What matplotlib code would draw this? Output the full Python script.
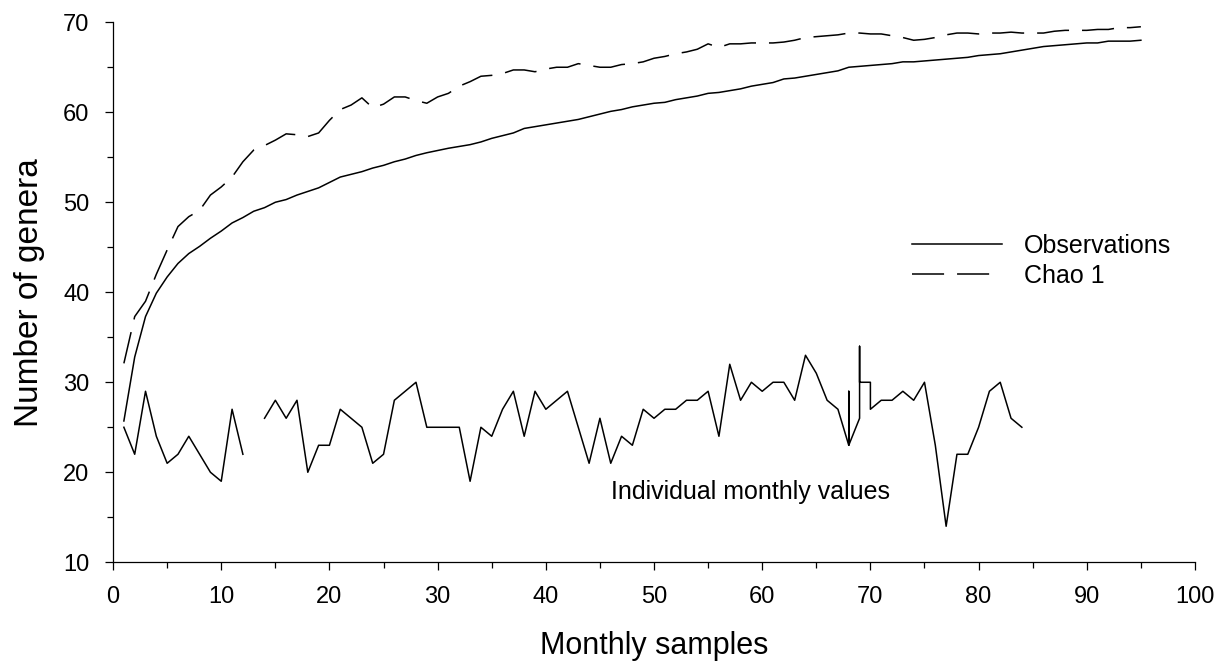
import numpy as np
import matplotlib
matplotlib.use("Agg")
import matplotlib.pyplot as plt
from matplotlib.ticker import MultipleLocator

plt.rcParams['font.family'] = ['Liberation Sans', 'DejaVu Sans']

# Cumulative curves (months 1..95)
cum_months = list(range(1, 96))
observations = [25.7, 32.8, 37.3, 39.9, 41.7, 43.2, 44.3, 45.1, 46.0, 46.8,
                47.7, 48.3, 49.0, 49.4, 50.0, 50.3, 50.8, 51.2, 51.6, 52.2,
                52.8, 53.1, 53.4, 53.8, 54.1, 54.5, 54.8, 55.2, 55.5, 55.75,
                56.0, 56.2, 56.4, 56.7, 57.1, 57.4, 57.7, 58.2, 58.4, 58.6,
                58.8, 59.0, 59.2, 59.5, 59.8, 60.1, 60.3, 60.6, 60.8, 61.0,
                61.1, 61.4, 61.6, 61.8, 62.1, 62.2, 62.4, 62.6, 62.9, 63.1,
                63.3, 63.7, 63.8, 64.0, 64.2, 64.4, 64.6, 65.0, 65.1, 65.2,
                65.3, 65.4, 65.6, 65.6, 65.7, 65.8, 65.9, 66.0, 66.1, 66.3,
                66.4, 66.5, 66.7, 66.9, 67.1, 67.3, 67.4, 67.5, 67.6, 67.7,
                67.7, 67.9, 67.9, 67.9, 68.0]
chao1 = [32.1, 37.3, 39.0, 42.0, 44.7, 47.3, 48.4, 49.1, 50.8, 51.7,
         52.8, 54.5, 55.8, 56.3, 56.9, 57.6, 57.5, 57.3, 57.7, 59.1,
         60.3, 60.8, 61.6, 60.5, 60.9, 61.7, 61.7, 61.3, 61.0, 61.7,
         62.1, 62.9, 63.4, 64.0, 64.1, 64.3, 64.7, 64.7, 64.5, 64.8,
         65.0, 65.0, 65.4, 65.2, 65.0, 65.0, 65.3, 65.4, 65.6, 66.0,
         66.2, 66.5, 66.7, 67.0, 67.6, 67.2, 67.6, 67.6, 67.7, 67.7,
         67.7, 67.8, 68.0, 68.3, 68.4, 68.5, 68.6, 68.8, 68.8, 68.7,
         68.7, 68.5, 68.3, 68.0, 68.1, 68.3, 68.6, 68.8, 68.8, 68.7,
         68.8, 68.8, 68.9, 68.8, 68.8, 68.8, 69.0, 69.1, 69.1, 69.1,
         69.2, 69.2, 69.4, 69.4, 69.5]

# Individual monthly values (gap at month 13; repeated months as drawn)
monthly_x = [1, 2, 3, 4, 5, 6, 7, 8, 9, 10, 11, 12, 13,
             14, 15, 16, 17, 18, 19, 20, 21, 22, 23, 24, 25, 26, 27, 28, 29,
             30, 31, 32, 33, 34, 35, 36, 37, 38, 39, 40, 41, 42, 43, 44, 45,
             46, 47, 48, 49, 50, 51, 52, 53, 54, 55, 56, 57, 58, 59, 60, 61,
             62, 63, 64, 65, 66, 67, 68, 68, 68, 69, 69, 69, 70, 70,
             71, 72, 73, 74, 75, 76, 77, 78, 79, 80, 81, 82, 83, 84]
monthly_y = [25, 22, 29, 24, 21, 22, 24, 22, 20, 19, 27, 22, np.nan,
             26, 28, 26, 28, 20, 23, 23, 27, 26, 25, 21, 22, 28, 29, 30, 25,
             25, 25, 25, 19, 25, 24, 27, 29, 24, 29, 27, 28, 29, 25, 21, 26,
             21, 24, 23, 27, 26, 27, 27, 28, 28, 29, 24, 32, 28, 30, 29, 30,
             30, 28, 33, 31, 28, 27, 23, 29, 23, 26, 34, 30, 30, 27,
             28, 28, 29, 28, 30, 23, 14, 22, 22, 25, 29, 30, 26, 25]

legend_labels = ["Observations", "Chao 1"]

fig = plt.figure(figsize=(12.17, 6.64), dpi=100)
ax = fig.add_axes([0.0929, 0.1532, 0.889, 0.8133])

lw = 1.1
ax.plot(cum_months, observations, color='black', lw=lw, label=legend_labels[0])
ax.plot(cum_months, chao1, color='black', lw=lw, dashes=(21, 8.5), label=legend_labels[1])
ax.plot(monthly_x, monthly_y, color='black', lw=lw)

ax.set_xlim(0, 100)
ax.set_ylim(10, 70)
ax.xaxis.set_major_locator(MultipleLocator(10))
ax.xaxis.set_minor_locator(MultipleLocator(5))
ax.yaxis.set_major_locator(MultipleLocator(10))
ax.yaxis.set_minor_locator(MultipleLocator(5))
ax.spines['top'].set_visible(False)
ax.spines['right'].set_visible(False)
for s in ('left', 'bottom'):
    ax.spines[s].set_linewidth(0.9)
ax.tick_params(axis='both', which='major', length=6, width=0.9, labelsize=17, direction='out')
ax.tick_params(axis='both', which='minor', length=4.5, width=0.9, direction='out')
ax.tick_params(axis='x', which='major', pad=11)
ax.tick_params(axis='y', which='major', pad=11)

ax.set_xlabel("Monthly samples", fontsize=22, labelpad=17)
ax.set_ylabel("Number of genera", fontsize=24, labelpad=13)

ax.text(46.0, 17.0, "Individual monthly values", fontsize=18, ha='left', va='baseline')

leg = ax.legend(loc='upper left', bbox_to_anchor=(0.718, 0.65), frameon=False,
                fontsize=18, handlelength=3.6, handletextpad=0.85, labelspacing=0.25)

fig.savefig("out.png", dpi=100)
